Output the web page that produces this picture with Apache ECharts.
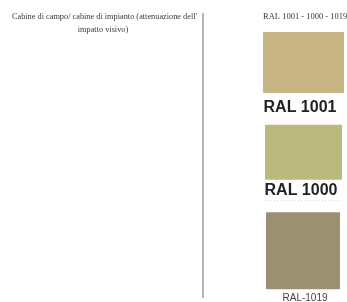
<!DOCTYPE html>
<html>
<head>
<meta charset="utf-8">
<script src="https://cdn.jsdelivr.net/npm/echarts@6/dist/echarts.min.js"></script>
<style>
  html, body { margin: 0; padding: 0; background: #fff; }
  #chart { width: 347px; height: 302px; }
</style>
</head>
<body>
<div id="chart"></div>
<script>
// swatch names and their colours, top to bottom
var swatchNames = ['RAL 1001', 'RAL 1000', 'RAL-1019'];
var swatchColors = ['#c8b584', '#bbb97e', '#9b9071'];
var headerText = 'RAL 1001 - 1000 - 1019';
var noteLines = ["Cabine di campo/ cabine di impianto (attenuazione dell'", 'impatto visivo)'];

// per swatch placement inside its band (kept apart from the data)
var layout = [
    {dx: 1, dy: 0, w: 81, h: 61, lx: -3.5, ly: 76, font: 'bold 16px Liberation Sans', fill: '#222'},
    {dx: 3, dy: 4, w: 77, h: 55, lx: -2.5, ly: 66, font: 'bold 16px Liberation Sans', fill: '#222', rule: true},
    {dx: 4, dy: 3, w: 74, h: 77, lx: 2, ly: 86, font: '10px Liberation Sans', fill: '#444'}
];

var chart = echarts.init(document.getElementById('chart'));
chart.setOption({
    animation: false,
    backgroundColor: '#fff',
    grid: {left: 262, right: 3, top: 32, bottom: 4},
    xAxis: {type: 'value', min: 0, max: 1, show: false},
    yAxis: {type: 'category', data: swatchNames, inverse: true, show: false},
    graphic: [
        {type: 'line', shape: {x1: 203, y1: 13, x2: 203, y2: 298},
         style: {stroke: '#b4b4b4', lineWidth: 2}},
        {type: 'text', x: 104.5, y: 17, style: {text: noteLines[0], font: '8.3px Liberation Serif',
         fill: '#3a3a3a', align: 'center', verticalAlign: 'middle'}},
        {type: 'text', x: 103, y: 30, style: {text: noteLines[1], font: '8.3px Liberation Serif',
         fill: '#3a3a3a', align: 'center', verticalAlign: 'middle'}},
        {type: 'text', x: 263, y: 17, style: {text: headerText, font: '8.5px Liberation Serif',
         fill: '#3a3a3a', align: 'left', verticalAlign: 'middle'}}
    ],
    series: [{
        type: 'custom',
        data: swatchNames.map(function(name, i) { return [0, i]; }),
        renderItem: function(params, api) {
            var i = params.dataIndex;
            var L = layout[i];
            var c = api.coord([0, i]);
            var band = api.size([0, 1])[1];
            var top = c[1] - band / 2;
            var x = c[0] + L.dx;
            var kids = [
                {type: 'rect', shape: {x: x, y: top + L.dy, width: L.w, height: L.h, r: 1},
                 style: {fill: swatchColors[i]}},
                {type: 'text', x: x + L.w / 2 + L.lx, y: top + L.dy + L.ly,
                 style: {text: swatchNames[i], font: L.font, fill: L.fill,
                         align: 'center', verticalAlign: 'middle'}}
            ];
            if (L.rule) {
                kids.push({type: 'line', shape: {x1: x, y1: top + L.dy + L.ly + 10, x2: x + L.w, y2: top + L.dy + L.ly + 10},
                           style: {stroke: '#d8d8d8', lineWidth: 1, lineDash: [1, 2]}});
            }
            return {type: 'group', children: kids};
        }
    }]
});
</script>
</body>
</html>
